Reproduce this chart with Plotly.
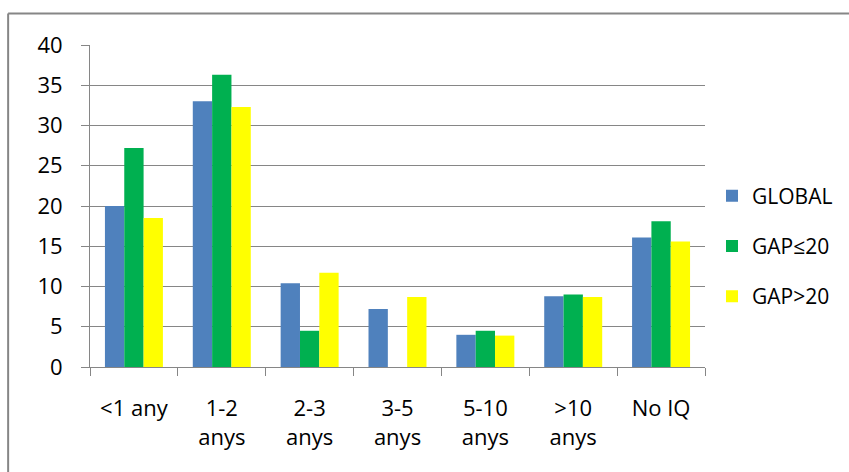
import plotly.graph_objects as go

categories = ["<1 any", "1-2<br>anys", "2-3<br>anys", "3-5<br>anys",
              "5-10<br>anys", ">10<br>anys", "No IQ"]
global_vals = [20.0, 33.0, 10.4, 7.2, 4.0, 8.8, 16.1]
gap_le20 = [27.2, 36.3, 4.5, 0.0, 4.5, 9.0, 18.1]
gap_gt20 = [18.5, 32.3, 11.7, 8.7, 3.9, 8.7, 15.6]
y_ticks = [0, 5, 10, 15, 20, 25, 30, 35, 40]

series = [
    ("GLOBAL", global_vals, "#4F81BD"),
    ("GAP≤20", gap_le20, "#00B050"),
    ("GAP>20", gap_gt20, "#FFFF00"),
]

GRID = "#868686"
FAMILY = "Open Sans, Liberation Sans, sans-serif"
FONT = dict(family=FAMILY, size=22, color="#000000")
LEGEND_FONT = dict(family=FAMILY, size=21, color="#000000")

fig = go.Figure()
for name, vals, color in series:
    fig.add_trace(go.Bar(
        name=name, x=categories, y=vals,
        marker=dict(color=color, line=dict(width=0)),
        legendgroup=name,
    ))

# Pixel geometry of the plot area inside the 849x472 page
W, H = 849, 472
L, R, T, B = 90, 706, 45, 367
pw, ph = R - L, B - T

def px_x(x):
    return (x - L) / pw

def px_y(y):
    return (B - y) / ph

fig.update_layout(
    width=W, height=H,
    margin=dict(l=L, r=W - R, t=T, b=H - B, pad=0),
    paper_bgcolor="white", plot_bgcolor="white",
    font=FONT,
    barmode="group", bargap=0.34, bargroupgap=0,
    showlegend=True,
    legend=dict(
        x=px_x(712), xanchor="left",
        y=px_y(246), yanchor="middle",
        traceorder="grouped", tracegroupgap=20,
        font=LEGEND_FONT, bgcolor="rgba(0,0,0,0)", borderwidth=0,
    ),
    xaxis=dict(
        showgrid=False, showline=True, linecolor=GRID, linewidth=1,
        ticks="outside", ticklen=8, tickcolor=GRID, tickwidth=1,
        tickson="boundaries", ticklabelstandoff=22,
        tickfont=FONT, fixedrange=True,
    ),
    yaxis=dict(
        range=[0, 40], tickvals=y_ticks,
        showgrid=True, gridcolor=GRID, gridwidth=1,
        showline=True, linecolor=GRID, linewidth=1,
        ticks="outside", ticklen=8, tickcolor=GRID, tickwidth=1,
        ticklabelstandoff=14, zeroline=False,
        tickfont=FONT, fixedrange=True,
    ),
    shapes=[
        # Chart frame (left and top edges visible)
        dict(type="line", xref="paper", yref="paper",
             x0=px_x(8), x1=px_x(8), y0=px_y(480), y1=px_y(13.5),
             line=dict(color=GRID, width=2)),
        dict(type="line", xref="paper", yref="paper",
             x0=px_x(8), x1=px_x(860), y0=px_y(13.5), y1=px_y(13.5),
             line=dict(color=GRID, width=2)),
    ],
)

fig.write_html("out.html")
